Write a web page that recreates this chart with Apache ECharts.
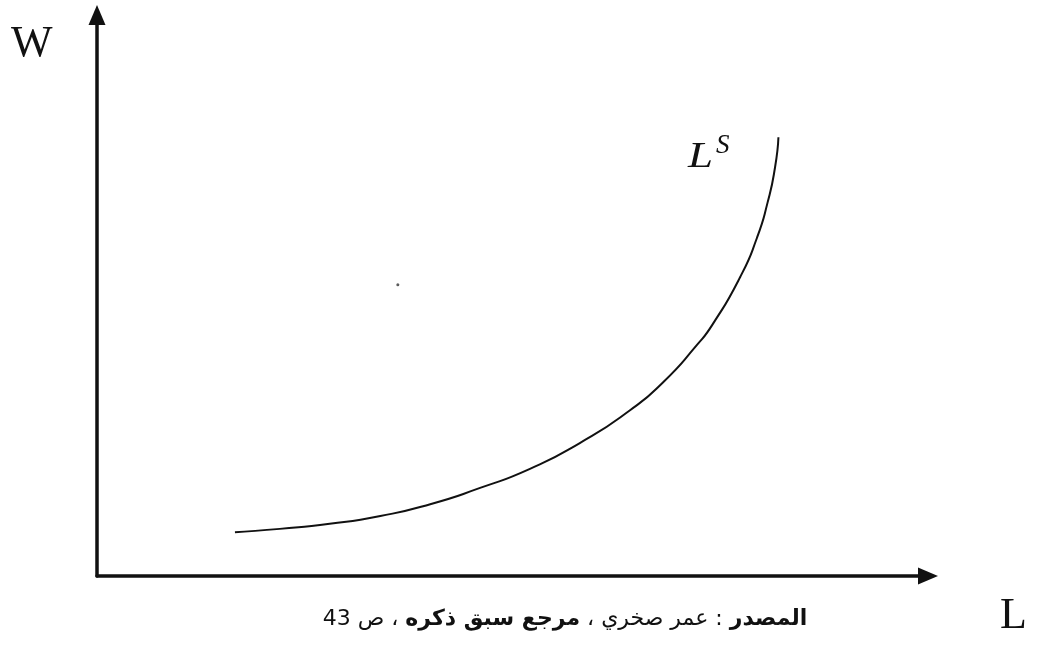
<!DOCTYPE html>
<html>
<head>
<meta charset="utf-8">
<script src="https://cdn.jsdelivr.net/npm/echarts@6/dist/echarts.min.js"></script>
<style>
  html, body { margin: 0; padding: 0; background: #ffffff; }
  #chart { width: 1038px; height: 646px; }
</style>
</head>
<body>
<div id="chart"></div>
<script>
// Labour supply curve L^S: wage W against labour L (arbitrary units 0–100)
const supplyL = [16.6, 22.0, 28.0, 34.1, 40.1, 46.1, 52.1, 58.1, 64.1, 68.1, 72.2, 74.1, 77.4, 79.4, 80.7, 81.6, 82.0];
const supplyW = [7.8, 8.4, 9.3, 10.7, 12.8, 15.7, 19.1, 23.7, 29.5, 34.5, 41.2, 44.9, 53.3, 60.2, 66.6, 72.9, 78.2];

// stray printed dot inside the plot
const dotL = [36.2];
const dotW = [51.9];

const axisNameW = 'W';
const axisNameL = 'L';
const curveName = 'L';
const curveSup = 'S';
// source line, split by weight and listed left to right as printed
const RLM = '\u200F';
const sourceParts = [
  { text: ' ، ص 43', bold: false },
  { text: 'مرجع سبق ذكره', bold: true },
  { text: ' : عمر صخري ، ', bold: false },
  { text: 'المصدر', bold: true }
];

const supplyData = supplyL.map((v, i) => [v, supplyW[i]]);
const dotData = dotL.map((v, i) => [v, dotW[i]]);

const chart = echarts.init(document.getElementById('chart'), null, { renderer: 'canvas' });

const axisStyle = {
  show: true,
  symbol: ['none', 'triangle'],
  symbolSize: [17, 20],
  lineStyle: { color: '#111111', width: 3.5 }
};

const richSource = {};
sourceParts.forEach((p, i) => {
  richSource['p' + i] = {
    fontFamily: '"DejaVu Sans", "Liberation Serif", serif',
    fontSize: 22,
    fontWeight: p.bold ? 'bold' : 'normal',
    color: '#111111'
  };
});
const sourceText = sourceParts.map((p, i) => '{p' + i + '|' + RLM + p.text + RLM + '}').join('');

chart.setOption({
  backgroundColor: '#ffffff',
  animation: false,
  grid: { left: 97, right: 110, top: 15, bottom: 70, containLabel: false },
  xAxis: {
    type: 'value', min: 0, max: 100,
    axisLine: axisStyle,
    axisTick: { show: false }, axisLabel: { show: false }, splitLine: { show: false }
  },
  yAxis: {
    type: 'value', min: 0, max: 100,
    axisLine: axisStyle,
    axisTick: { show: false }, axisLabel: { show: false }, splitLine: { show: false }
  },
  series: [
    {
      type: 'line',
      data: supplyData,
      smooth: 0.6,
      showSymbol: false,
      lineStyle: { color: '#111111', width: 2 }
    },
    {
      type: 'scatter',
      data: dotData,
      symbolSize: 3,
      itemStyle: { color: '#333333' }
    }
  ],
  graphic: [
    {
      type: 'text', left: 11, top: 22,
      style: { text: axisNameW, font: '44px "Liberation Serif", serif', fill: '#111111' }
    },
    {
      type: 'text', left: 1000, top: 594,
      style: { text: axisNameL, font: '44px "Liberation Serif", serif', fill: '#111111' }
    },
    {
      type: 'text', x: 688, y: 140, scaleX: 1.25,
      style: { text: curveName, font: 'italic 36px "Liberation Serif", serif', fill: '#111111' }
    },
    {
      type: 'text', x: 716, y: 132,
      style: { text: curveSup, font: 'italic 27px "Liberation Serif", serif', fill: '#111111' }
    },
    {
      type: 'text', x: 565, y: 619,
      style: { text: sourceText, rich: richSource, fill: '#111111', align: 'center', verticalAlign: 'middle' }
    }
  ]
});
</script>
</body>
</html>
